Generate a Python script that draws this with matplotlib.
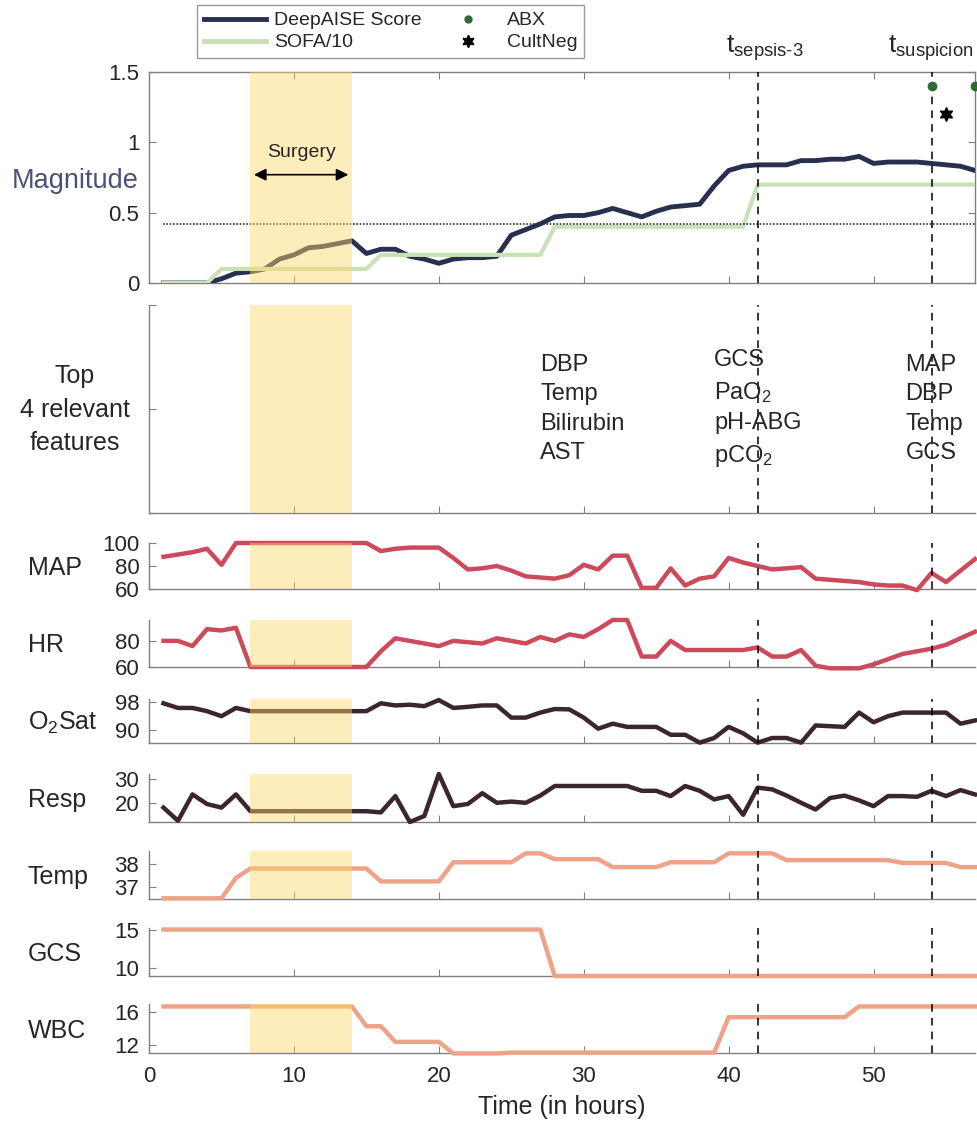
import matplotlib
matplotlib.use('Agg')
import matplotlib.pyplot as plt
import numpy as np
from matplotlib.lines import Line2D

plt.rcParams['font.family'] = ['Liberation Sans', 'DejaVu Sans']
plt.rcParams['mathtext.fontset'] = 'custom'
plt.rcParams['mathtext.rm'] = 'Liberation Sans'
plt.rcParams['mathtext.it'] = 'Liberation Sans:italic'
plt.rcParams['mathtext.bf'] = 'Liberation Sans:bold'
plt.rcParams['mathtext.default'] = 'regular'

# ---------------- data ----------------
hours = list(range(1, 58))

deepaise = [0, 0, 0, 0, 0.03, 0.07, 0.08, 0.10, 0.17, 0.20,
            0.25, 0.26, 0.28, 0.30, 0.21, 0.24, 0.24, 0.19, 0.17, 0.14,
            0.17, 0.18, 0.18, 0.19, 0.34, 0.38, 0.42, 0.47, 0.48, 0.48,
            0.50, 0.53, 0.50, 0.47, 0.51, 0.54, 0.55, 0.56, 0.69, 0.80,
            0.83, 0.84, 0.84, 0.84, 0.87, 0.87, 0.88, 0.88, 0.90, 0.85,
            0.86, 0.86, 0.86, 0.85, 0.84, 0.83, 0.80]

sofa10 = [0, 0, 0, 0, 0.1, 0.1, 0.1, 0.1, 0.1, 0.1,
          0.1, 0.1, 0.1, 0.1, 0.1, 0.2, 0.2, 0.2, 0.2, 0.2,
          0.2, 0.2, 0.2, 0.2, 0.2, 0.2, 0.2, 0.4, 0.4, 0.4,
          0.4, 0.4, 0.4, 0.4, 0.4, 0.4, 0.4, 0.4, 0.4, 0.4,
          0.4, 0.7, 0.7, 0.7, 0.7, 0.7, 0.7, 0.7, 0.7, 0.7,
          0.7, 0.7, 0.7, 0.7, 0.7, 0.7, 0.7]

threshold = 0.42
abx_times = [54, 57]
abx_vals = [1.4, 1.4]
cultneg_times = [55]
cultneg_vals = [1.2]
t_sepsis3 = 42
t_suspicion = 54
surgery = (7, 14)

map_vals = [88, 90, 92, 95, 81, 100, 100, 100, 100, 100,
            100, 100, 100, 100, 100, 93, 95, 96, 96, 96,
            87, 77, 78, 80, 76, 71, 70, 69, 72, 81,
            77, 89, 89, 61, 61, 78, 63, 69, 71, 87,
            83, 80, 77, 78, 79, 69, 68, 67, 66, 64,
            63, 63, 59, 74, 66, 76, 86]

hr_vals = [80, 80, 76, 89, 88, 90, 60, 60, 60, 60,
           60, 60, 60, 60, 60, 72, 82, 80, 78, 76,
           80, 79, 78, 82, 80, 78, 83, 80, 85, 83,
           89, 96, 96, 68, 68, 80, 73, 73, 73, 73,
           73, 75, 68, 68, 73, 61, 59, 59, 59, 62,
           66, 70, 72, 74, 77, 82, 87]

o2_vals = [97.6, 96.3, 96.3, 95.4, 94.0, 96.3, 95.4, 95.4, 95.4, 95.4,
           95.4, 95.4, 95.4, 95.4, 95.4, 97.6, 97.0, 97.2, 96.8, 98.5,
           96.3, 96.6, 97.0, 97.0, 93.6, 93.6, 95.0, 96.0, 95.9, 93.6,
           90.5, 91.9, 91.0, 91.0, 91.0, 88.8, 88.8, 86.6, 87.9, 91.0,
           89.2, 86.6, 87.9, 87.9, 86.6, 91.4, 91.2, 91.0, 95.0, 92.3,
           94.0, 95.0, 95.0, 95.0, 95.0, 91.9, 92.8]

resp_vals = [18, 12.5, 23.5, 19.5, 18, 23.5, 16.5, 16.5, 16.5, 16.5,
             16.5, 16.5, 16.5, 16.5, 16.5, 16, 22.8, 12, 14.5, 32,
             18.6, 19.5, 24, 20, 20.5, 20, 23, 27, 27, 27,
             27, 27, 27, 25, 25, 22.8, 27, 25, 21.4, 22.8,
             15, 26.3, 25.6, 23, 20, 17.2, 22, 23, 21, 18.6,
             22.8, 22.8, 22.5, 25, 22.8, 25.3, 23.5]

temp_vals = [36.53, 36.53, 36.53, 36.53, 36.53, 37.4, 37.8, 37.8, 37.8, 37.8,
             37.8, 37.8, 37.8, 37.8, 37.8, 37.25, 37.25, 37.25, 37.25, 37.25,
             38.07, 38.07, 38.07, 38.07, 38.07, 38.45, 38.45, 38.2, 38.2, 38.2,
             38.2, 37.86, 37.86, 37.86, 37.86, 38.07, 38.07, 38.07, 38.07, 38.45,
             38.45, 38.45, 38.45, 38.16, 38.16, 38.16, 38.16, 38.16, 38.16, 38.16,
             38.16, 38.04, 38.04, 38.04, 38.04, 37.86, 37.86]

gcs_vals = [15, 15, 15, 15, 15, 15, 15, 15, 15, 15,
            15, 15, 15, 15, 15, 15, 15, 15, 15, 15,
            15, 15, 15, 15, 15, 15, 15, 9, 9, 9,
            9, 9, 9, 9, 9, 9, 9, 9, 9, 9,
            9, 9, 9, 9, 9, 9, 9, 9, 9, 9,
            9, 9, 9, 9, 9, 9, 9]

wbc_vals = [16.7, 16.7, 16.7, 16.7, 16.7, 16.7, 16.7, 16.7, 16.7, 16.7,
            16.7, 16.7, 16.7, 16.7, 14.3, 14.3, 12.4, 12.4, 12.4, 12.4,
            11.0, 11.0, 11.0, 11.0, 11.1, 11.1, 11.1, 11.1, 11.1, 11.1,
            11.1, 11.1, 11.1, 11.1, 11.1, 11.1, 11.1, 11.1, 11.1, 15.4,
            15.4, 15.4, 15.4, 15.4, 15.4, 15.4, 15.4, 15.4, 16.7, 16.7,
            16.7, 16.7, 16.7, 16.7, 16.7, 16.7, 16.7]

features_times = [27.0, 39.0, 52.2]
features_text = ["DBP\nTemp\nBilirubin\nAST",
                 "GCS\nPaO$_2$\npH-ABG\npCO$_2$",
                 "MAP\nDBP\nTemp\nGCS"]

xticks = [0, 10, 20, 30, 40, 50]

# ---------------- style ----------------
NAVY = '#2b2f4f'
GREEN = '#c8e1b5'
RED = '#cd4a5d'
DARK = '#3b2630'
SALMON = '#eea389'
BAND = '#fcd86a'
SPINE = '#808080'
TXT = '#262626'

W, H = 977, 1128
fig = plt.figure(figsize=(W / 100, H / 100), dpi=100)
LEFT, RIGHT = 149, 975


def add_ax(top, bot):
    return fig.add_axes([LEFT / W, 1 - bot / H, (RIGHT - LEFT) / W, (bot - top) / H])


def style(ax, box=False, xlabels=False):
    ax.set_xlim(0, 57)
    ax.set_xticks(xticks)
    for s in ['left', 'bottom', 'top', 'right']:
        ax.spines[s].set_color(SPINE)
        ax.spines[s].set_linewidth(1.0)
    if not box:
        ax.spines['top'].set_visible(False)
        ax.spines['right'].set_visible(False)
    ax.tick_params(direction='in', length=5, color=SPINE, labelcolor=TXT,
                   labelsize=16, top=box, right=box)
    ax.tick_params(axis='y', pad=7)
    if not xlabels:
        ax.tick_params(labelbottom=False)


def band(ax):
    ax.axvspan(surgery[0], surgery[1], color=BAND, alpha=0.45, lw=0, zorder=5)


def vlines(ax):
    for t in (t_sepsis3, t_suspicion):
        ax.axvline(t, color='k', ls=(0, (5, 4)), lw=1.1, zorder=6)


# ---- top panel ----
ax0 = add_ax(72, 283)
style(ax0, box=True)
ax0.set_ylim(0, 1.5)
ax0.set_yticks([0, 0.5, 1, 1.5])
ax0.set_yticklabels(['0', '0.5', '1', '1.5'])
ax0.plot(hours, deepaise, color=NAVY, lw=3.5, zorder=3, solid_joinstyle='round')
ax0.plot(hours, sofa10, color=GREEN, lw=3.0, zorder=3.5)
ax0.plot([hours[0], hours[-1]], [threshold, threshold], color='#333333', ls=(0, (1, 1)), lw=1.2, zorder=4)
ax0.plot(abx_times, abx_vals, ls='none', marker='o', color='#2e6b34', ms=6, zorder=7, clip_on=False)
ax0.plot(cultneg_times, cultneg_vals, ls='none', marker=(6, 1, 0), color='k', ms=10, zorder=7)
band(ax0)
vlines(ax0)
ax0.text(10.5, 0.93, 'Surgery', ha='center', va='center', fontsize=14, color=TXT, zorder=8)
ax0.annotate('', xy=(7.05, 0.77), xytext=(13.95, 0.77),
             arrowprops=dict(arrowstyle='<|-|>', color='k', lw=1.2, mutation_scale=18), zorder=8)
ax0.annotate(r'$t_{sepsis\text{-}3}$', xy=(39.8, 1.045), xycoords=('data', 'axes fraction'),
             ha='left', va='bottom', fontsize=19, color=TXT, annotation_clip=False)
ax0.annotate(r'$t_{suspicion}$', xy=(51.0, 1.045), xycoords=('data', 'axes fraction'),
             ha='left', va='bottom', fontsize=19, color=TXT, annotation_clip=False)
fig.text(139 / W, 1 - 181 / H, 'Magnitude', ha='right', va='center', fontsize=19.5, color='#4a5276')

handles = [Line2D([], [], color=NAVY, lw=3.5),
           Line2D([], [], color=GREEN, lw=3.5),
           Line2D([], [], ls='none', marker='o', color='#2e6b34', ms=5),
           Line2D([], [], ls='none', marker=(6, 1, 0), color='k', ms=9)]
labels = ['DeepAISE Score', 'SOFA/10', 'ABX', 'CultNeg']
leg = fig.legend(handles, labels, loc='upper left', bbox_to_anchor=(197 / W, 1 - 5 / H),
                 ncol=2, frameon=True, fancybox=False, edgecolor=SPINE, fontsize=14,
                 handlelength=3.2, handletextpad=0.4, columnspacing=0.8,
                 borderpad=0.35, labelspacing=0.22, borderaxespad=0)
leg.get_frame().set_linewidth(1.0)
for t in leg.get_texts():
    t.set_color(TXT)

# ---- features panel ----
ax1 = add_ax(305, 513)
style(ax1)
ax1.set_ylim(0, 1)
ax1.set_yticks([0, 0.5, 1])
ax1.tick_params(labelleft=False)
band(ax1)
vlines(ax1)
for tx, txt in zip(features_times, features_text):
    ax1.text(tx, 0.5, txt, ha='left', va='center', fontsize=17, color=TXT,
             linespacing=1.45, zorder=7)
fig.text(75 / W, 1 - 410 / H, 'Top\n4 relevant\nfeatures', ha='center', va='center',
         fontsize=18, color=TXT, linespacing=1.5)

# ---- vitals ----
panels = [
    ('MAP', map_vals, RED, (543, 589), (60, 100), [60, 80, 100], True),
    ('HR', hr_vals, RED, (620, 667), (60, 96), [60, 80], True),
    ('O$_2$Sat', o2_vals, DARK, (699, 743), (86.5, 98.8), [90, 98], True),
    ('Resp', resp_vals, DARK, (774, 822), (12, 32), [20, 30], True),
    ('Temp', temp_vals, SALMON, (851, 899), (36.5, 38.55), [37, 38], True),
    ('GCS', gcs_vals, SALMON, (928, 976), (9, 15.2), [10, 15], False),
    ('WBC', wbc_vals, SALMON, (1004, 1053), (11.05, 17), [12, 16], True),
]
for i, (name, vals, col, (top, bot), ylim, yt, has_band) in enumerate(panels):
    ax = add_ax(top, bot)
    last = i == len(panels) - 1
    style(ax, xlabels=last)
    ax.set_ylim(*ylim)
    ax.set_yticks(yt)
    ax.plot(hours, vals, color=col, lw=3.2, zorder=3, clip_on=False, solid_joinstyle='round')
    if has_band:
        band(ax)
    vlines(ax)
    fig.text(28 / W, 1 - ((top + bot) / 2 + 2) / H, name, ha='left', va='center',
             fontsize=18, color=TXT)
    if last:
        ax.set_xlabel('Time (in hours)', fontsize=18, color=TXT, labelpad=6)
        ax.tick_params(axis='x', pad=9)

fig.savefig('out.png', dpi=100)
